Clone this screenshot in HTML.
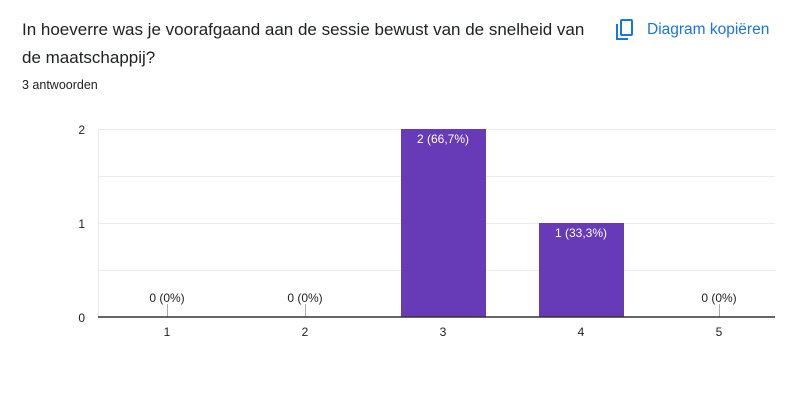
<!DOCTYPE html>
<html><head><style>
body{margin:0;width:798px;height:411px;background:#fff;overflow:hidden;font-family:"Liberation Sans",Arial,sans-serif}
</style></head><body>
<svg width="798" height="411" xmlns="http://www.w3.org/2000/svg" style="position:absolute;left:0;top:0">
<text x="22" y="35" font-size="17" fill="#202124">In hoeverre was je voorafgaand aan de sessie bewust van de snelheid van</text>
<text x="22" y="63" font-size="17" fill="#202124">de maatschappij?</text>
<text x="22" y="89" font-size="12.5" fill="#202124">3 antwoorden</text>
<g fill="none" stroke="#1a73e8" stroke-width="2">
<rect x="621" y="20" width="11" height="15" rx="1"/>
<path d="M617 24 v15 h11"/>
</g>
<text x="647" y="34" font-size="15.5" fill="#1a73e8">Diagram kopiëren</text>
<g stroke="#ebebeb" stroke-width="1">
<line x1="98" y1="129.5" x2="775" y2="129.5"/>
<line x1="98" y1="176.5" x2="775" y2="176.5"/>
<line x1="98" y1="223.5" x2="775" y2="223.5"/>
<line x1="98" y1="270.5" x2="775" y2="270.5"/>
<line x1="98.5" y1="129" x2="98.5" y2="317"/>
</g>
<rect x="401" y="129" width="85" height="188" fill="#673ab7"/>
<rect x="539" y="223" width="85" height="94" fill="#673ab7"/>
<g stroke="#aaa" stroke-width="1">
<line x1="167.5" y1="304" x2="167.5" y2="317"/>
<line x1="305.5" y1="304" x2="305.5" y2="317"/>
<line x1="719.5" y1="304" x2="719.5" y2="317"/>
</g>
<line x1="98" y1="317" x2="775" y2="317" stroke="#333" stroke-width="1.5"/>
<g font-size="12" fill="#222" text-anchor="middle">
<text x="167" y="302">0 (0%)</text>
<text x="305" y="302">0 (0%)</text>
<text x="719" y="302">0 (0%)</text>
<text x="167" y="336">1</text>
<text x="305" y="336">2</text>
<text x="443" y="336">3</text>
<text x="581" y="336">4</text>
<text x="719" y="336">5</text>
</g>
<g font-size="12" fill="#fff" text-anchor="middle">
<text x="443" y="143">2 (66,7%)</text>
<text x="581" y="237">1 (33,3%)</text>
</g>
<g font-size="12" fill="#222" text-anchor="end">
<text x="85" y="134">2</text>
<text x="85" y="228">1</text>
<text x="85" y="322">0</text>
</g>
</svg>
</body></html>
